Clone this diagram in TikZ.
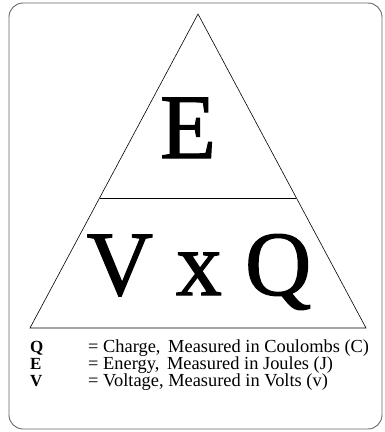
\documentclass[tikz,border=0pt]{standalone}
\usepackage{fontspec}
\setmainfont{Liberation Serif}
\newfontfamily\dick[FakeBold=1.2]{Liberation Serif}

\tikzset{
    gross/.style={font=\dick\fontsize{92}{92}\selectfont, inner sep=0pt, anchor=base},
    legende/.style={font=\fontsize{18.4}{18.4}\selectfont, inner sep=0pt, anchor=base west},
    symbol/.style={legende, font=\fontsize{17}{17}\selectfont\bfseries}
}

\begin{document}
\begin{tikzpicture}[x=1pt, y=-1pt]
    \useasboundingbox (0,0) rectangle (384,432);
    \draw[gray!80!black, rounded corners=14pt, line width=0.9pt] (9,3) rectangle (382,429);
    % Dreieck
    \coordinate (spitze) at (198,14);
    \coordinate (links) at (30,328);
    \coordinate (rechts) at (366,328);
    \coordinate (ml) at (99.6,198);
    \coordinate (mr) at (296.4,198);
    \draw[line width=0.6pt] (spitze) -- (links) -- (rechts) -- cycle;
    \draw[line width=1pt] (ml) -- (mr);
    \path node[gross] (E) at (188,158) {E}
        node[gross] (VxQ) at (199,295) {V x Q};
    \path node[symbol] (Q) at (30,352) {Q}
        node[symbol] (E2) at (30,369) {E}
        node[symbol] (V) at (30,386) {V}
        node[legende] (tQ) at (88,352) {= Charge,\, Measured in Coulombs (C)}
        node[legende] (tE) at (88,369) {= Energy,\, Measured in Joules (J)}
        node[legende] (tV) at (88,386) {= Voltage, Measured in Volts (v)};
\end{tikzpicture}
\end{document}
